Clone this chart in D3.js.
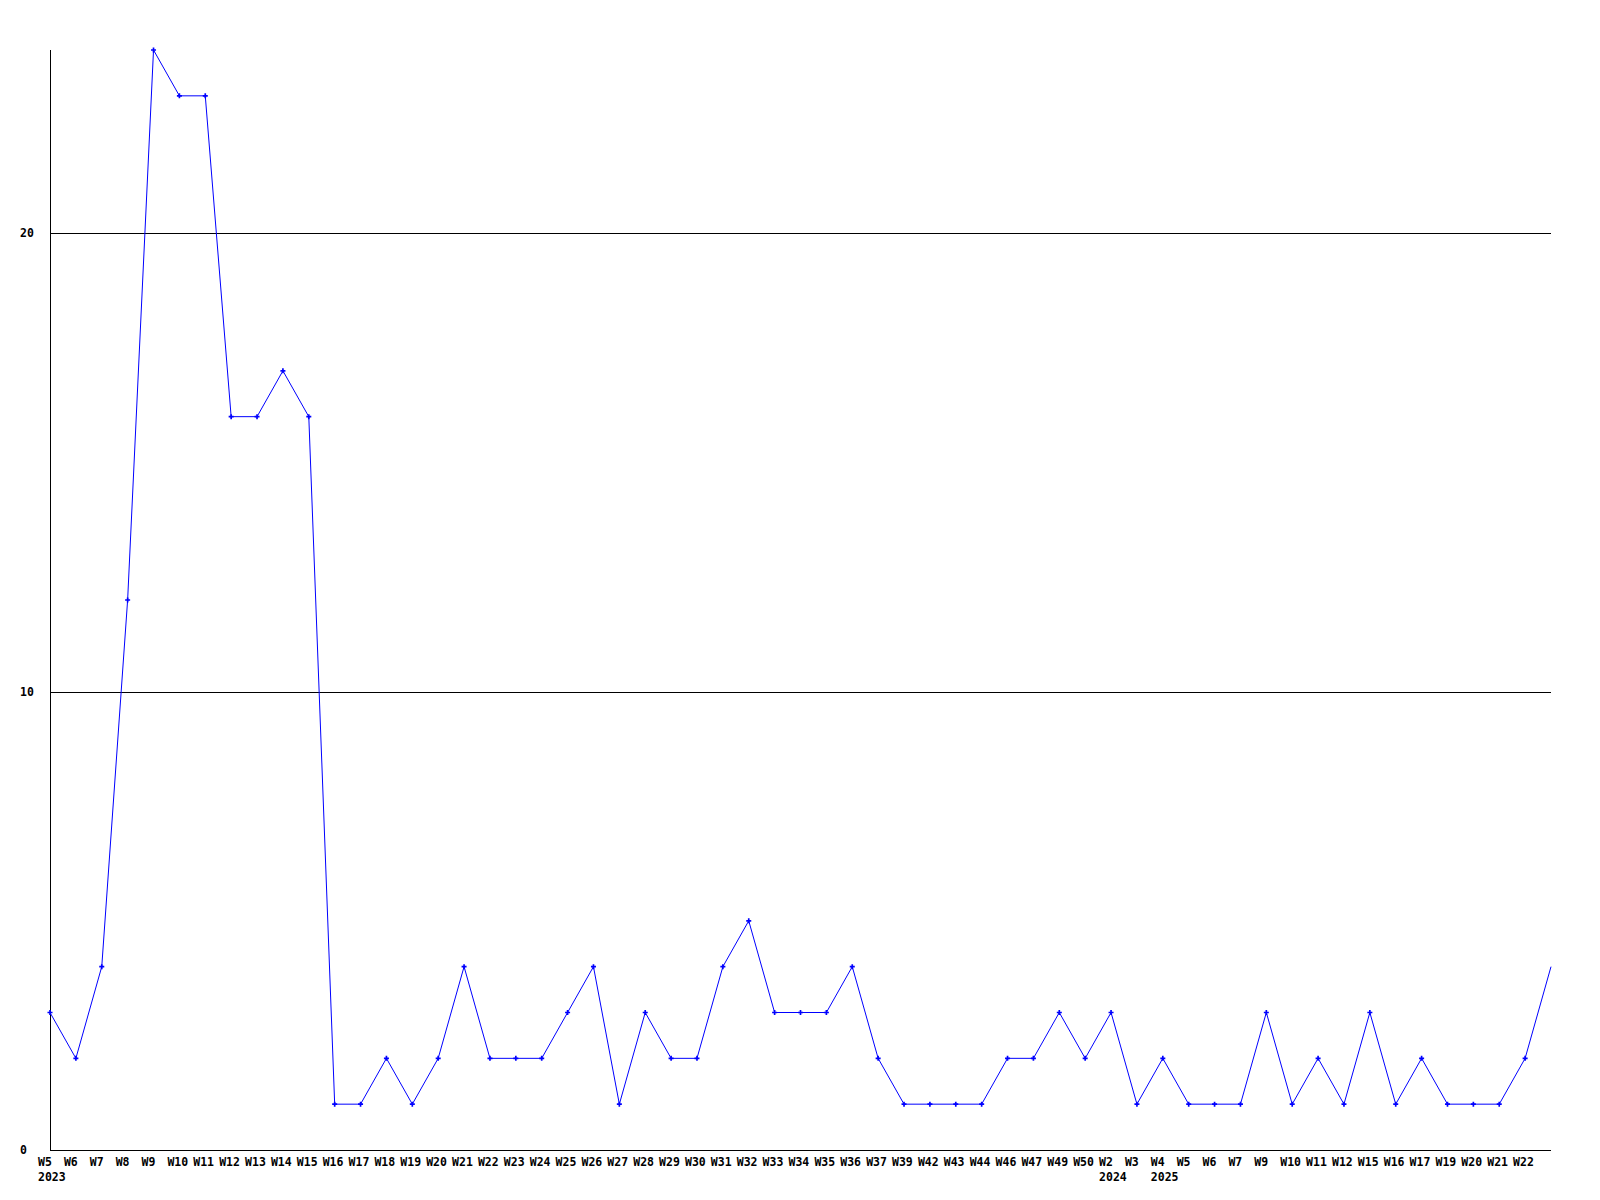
<!DOCTYPE html>
<html>
<head>
<meta charset="utf-8">
<script src="https://cdn.jsdelivr.net/npm/d3@7"></script>
<style>
  html, body { margin: 0; padding: 0; background: #fff; }
  svg { display: block; }
  text { font-family: "DejaVu Sans Mono", "Liberation Mono", monospace; font-weight: bold; font-size: 11.5px; fill: #000; }
</style>
</head>
<body>
<svg id="chart" width="1600" height="1200"></svg>
<script>
// Week labels along the x axis (last point is the current, unlabelled week)
const weekLabels = [
  "W5","W6","W7","W8","W9","W10","W11","W12","W13","W14","W15","W16","W17","W18","W19","W20",
  "W21","W22","W23","W24","W25","W26","W27","W28","W29","W30","W31","W32","W33","W34","W35","W36",
  "W37","W39","W42","W43","W44","W46","W47","W49","W50",
  "W2","W3",
  "W4","W5","W6","W7","W9","W10","W11","W12","W15","W16","W17","W19","W20","W21","W22",
  ""
];
// Year labels shown under the first week of each year
const yearLabels = [
  "2023","","","","","","","","","","","","","","","",
  "","","","","","","","","","","","","","","","",
  "","","","","","","","","",
  "2024","",
  "2025","","","","","","","","","","","","","","",
  ""
];
// Values per week
const values = [
  3,2,4,12,24,23,23,16,16,17,16,1,1,2,1,2,
  4,2,2,2,3,4,1,3,2,2,4,5,3,3,3,4,
  2,1,1,1,1,2,2,3,2,
  3,1,
  2,1,1,1,3,1,2,1,3,1,2,1,1,1,2,
  4
];
const yTicks = [0, 10, 20];
const yMax = 24;

const svg = d3.select("#chart");
const mLeft = 50, mRight = 1551, mTop = 50, mBottom = 1150;

const x = d3.scaleLinear().domain([0, values.length - 1]).range([mLeft, mRight]);
const y = d3.scaleLinear().domain([0, yMax]).range([mBottom, mTop]);

// grid lines
svg.append("g").selectAll("line").data(yTicks.filter(d => d > 0)).join("line")
  .attr("x1", mLeft).attr("x2", mRight)
  .attr("y1", d => Math.round(y(d)) + 0.5).attr("y2", d => Math.round(y(d)) + 0.5)
  .attr("stroke", "#000").attr("stroke-width", 1).attr("shape-rendering", "crispEdges");

// axes lines
svg.append("line").attr("x1", mLeft + 0.5).attr("x2", mLeft + 0.5).attr("y1", mTop).attr("y2", mBottom + 0.5)
  .attr("stroke", "#000").attr("shape-rendering", "crispEdges");
svg.append("line").attr("x1", mLeft).attr("x2", mRight).attr("y1", mBottom + 0.5).attr("y2", mBottom + 0.5)
  .attr("stroke", "#000").attr("shape-rendering", "crispEdges");

// y labels
svg.append("g").selectAll("text").data(yTicks).join("text")
  .attr("x", 20).attr("y", d => y(d)).attr("dy", "0.35em")
  .text(d => d);

// x labels
const idx = d3.range(values.length);
svg.append("g").selectAll("text").data(idx).join("text")
  .attr("x", i => x(i) - 12).attr("y", 1162).attr("dy", "0.35em")
  .text(i => weekLabels[i]);
svg.append("g").selectAll("text").data(idx.filter(i => yearLabels[i])).join("text")
  .attr("x", i => x(i) - 12).attr("y", 1177).attr("dy", "0.35em")
  .text(i => yearLabels[i]);

// line
const line = d3.line().x((d, i) => x(i)).y(d => y(d));
svg.append("path").datum(values)
  .attr("d", line).attr("fill", "none").attr("stroke", "#0000ff").attr("stroke-width", 1);

// markers (not on final partial point)
svg.append("g").selectAll("path").data(idx.slice(0, values.length - 1)).join("path")
  .attr("transform", i => `translate(${x(i)},${y(values[i])})`)
  .attr("d", d3.symbol().type(d3.symbolCross).size(14))
  .attr("fill", "#0000ff");
</script>
</body>
</html>
